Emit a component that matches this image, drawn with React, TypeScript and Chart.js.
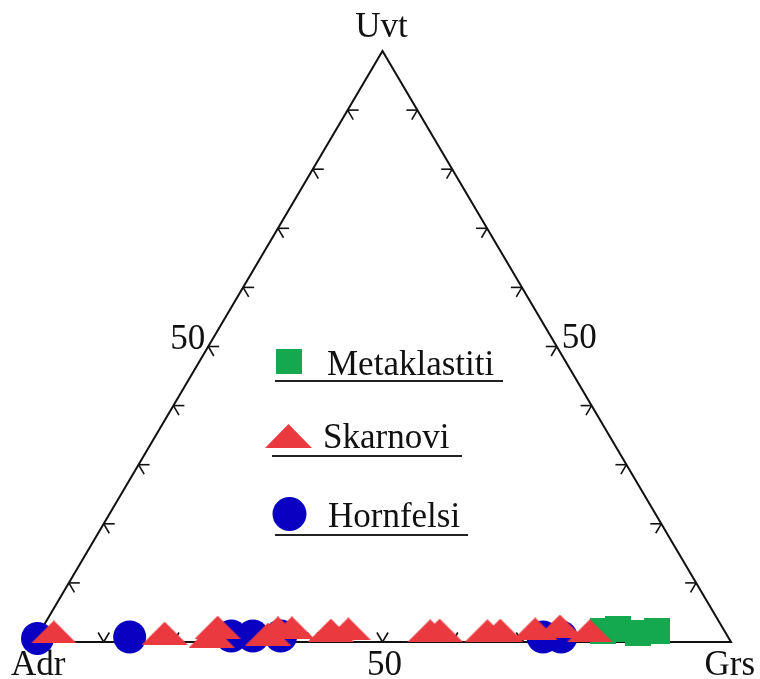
import React, { useEffect, useRef } from 'react';
import { Chart, registerables } from 'chart.js';

Chart.register(...registerables);

// Ternary diagram: Adr (left), Grs (right), Uvt (top). Values in %.
const VERTEX_LABELS = ['Adr', 'Grs', 'Uvt'];
const TICK_VALUES = [10, 20, 30, 40, 50, 60, 70, 80, 90];
const LABELLED_TICK = 50;
const SERIES_NAMES = ['Metaklastiti', 'Skarnovi', 'Hornfelsi'];

const metaklastitiGrs = [80.7, 82.7, 85.9, 88.5];
const metaklastitiUvt = [1.9, 2.2, 1.5, 1.9];

const skarnoviGrs = [2.0, 18.0, 25.0, 25.1, 32.9, 33.8, 35.8, 41.6, 44.0, 55.9, 57.2, 64.1, 65.9, 70.8, 74.1, 78.8];
const skarnoviUvt = [1.7, 1.5, 1.0, 2.5, 1.35, 2.4, 2.4, 2.0, 2.2, 1.9, 2.0, 1.9, 2.0, 2.2, 2.7, 1.9];

const hornfelsiGrs = [0.2, 13.3, 27.8, 30.9, 34.9, 72.6, 75.2];
const hornfelsiUvt = [0.6, 0.85, 1.0, 1.0, 1.0, 0.85, 0.85];

const GREEN = '#14a84f';
const RED = '#ea3a3f';
const BLUE = '#0a00c2';
const FONT = '35px "Liberation Serif", "Times New Roman", serif';

function toXY(grs: number[], uvt: number[]) {
  return grs.map((g, i) => ({ x: g + uvt[i] / 2, y: uvt[i] }));
}

function makeTriangle(w: number, h: number, color: string) {
  const c = document.createElement('canvas');
  c.width = w;
  c.height = h;
  const g = c.getContext('2d')!;
  g.fillStyle = color;
  g.beginPath();
  g.moveTo(0, h);
  g.lineTo(w / 2, 0);
  g.lineTo(w, h);
  g.closePath();
  g.fill();
  return c;
}

function makeSquare(w: number, h: number, color: string) {
  const c = document.createElement('canvas');
  c.width = w;
  c.height = h;
  const g = c.getContext('2d')!;
  g.fillStyle = color;
  g.fillRect(0, 0, w, h);
  return c;
}

export default function App() {
  const ref = useRef<HTMLCanvasElement | null>(null);

  useEffect(() => {
    if (!ref.current) return;
    const tri = makeTriangle(46, 23, RED);
    const sq = makeSquare(26, 26, GREEN);
    const legendSq = makeSquare(26, 25, GREEN);
    const legendTri = makeTriangle(47, 24, RED);

    const frame = {
      id: 'ternaryFrame',
      beforeDatasetsDraw(chart: any) {
        const { ctx } = chart;
        const xs = chart.scales.x;
        const ys = chart.scales.y;
        const P = (grs: number, uvt: number) => ({
          px: xs.getPixelForValue(grs + uvt / 2),
          py: ys.getPixelForValue(uvt),
        });
        const A = P(0, 0);
        const G = P(100, 0);
        const U = P(0, 100);
        const unit = (a: any, b: any) => {
          const dx = b.px - a.px;
          const dy = b.py - a.py;
          const l = Math.hypot(dx, dy);
          return [dx / l, dy / l];
        };
        ctx.save();
        ctx.strokeStyle = '#111';
        ctx.lineWidth = 2;
        ctx.beginPath();
        ctx.moveTo(A.px, A.py);
        ctx.lineTo(U.px, U.py);
        ctx.lineTo(G.px, G.py);
        ctx.closePath();
        ctx.stroke();

        const dUG = unit(U, G);
        const dUA = unit(U, A);
        const dGU = unit(G, U);
        const dAU = unit(A, U);
        const L = 11;
        ctx.lineWidth = 1.6;
        const seg = (p: any, d: number[]) => {
          ctx.beginPath();
          ctx.moveTo(p.px, p.py);
          ctx.lineTo(p.px + d[0] * L, p.py + d[1] * L);
          ctx.stroke();
        };
        for (const t of TICK_VALUES) {
          const l = P(0, t);
          seg(l, [1, 0]);
          seg(l, dUG);
          const r = P(100 - t, t);
          seg(r, [-1, 0]);
          seg(r, dUA);
          const b = P(t, 0);
          seg(b, dGU);
          seg(b, dAU);
        }

        ctx.fillStyle = '#111';
        ctx.font = FONT;
        ctx.textBaseline = 'alphabetic';
        // vertex labels
        ctx.textAlign = 'left';
        ctx.fillText(VERTEX_LABELS[0], A.px - 23, A.py + 33);
        ctx.textAlign = 'right';
        ctx.fillText(VERTEX_LABELS[1], G.px + 24, G.py + 33);
        ctx.textAlign = 'center';
        ctx.fillText(VERTEX_LABELS[2], U.px - 1, U.py - 14);
        // 50 labels
        const l50 = P(0, LABELLED_TICK);
        ctx.textAlign = 'right';
        ctx.fillText(String(LABELLED_TICK), l50.px - 3, l50.py + 2);
        const r50 = P(100 - LABELLED_TICK, LABELLED_TICK);
        ctx.textAlign = 'left';
        ctx.fillText(String(LABELLED_TICK), r50.px + 5, r50.py + 1);
        const b50 = P(LABELLED_TICK, 0);
        ctx.textAlign = 'center';
        ctx.fillText(String(LABELLED_TICK), b50.px + 2, b50.py + 33);
        ctx.restore();
      },
      afterDatasetsDraw(chart: any) {
        const { ctx } = chart;
        ctx.save();
        ctx.font = FONT;
        ctx.fillStyle = '#111';
        ctx.textAlign = 'left';
        ctx.textBaseline = 'alphabetic';
        // Metaklastiti
        ctx.drawImage(legendSq, 276, 349);
        ctx.fillText(SERIES_NAMES[0], 327, 375);
        // Skarnovi
        ctx.drawImage(legendTri, 265, 424);
        ctx.fillText(SERIES_NAMES[1], 323, 448);
        // Hornfelsi
        ctx.fillStyle = BLUE;
        ctx.beginPath();
        ctx.arc(289.5, 514, 17, 0, Math.PI * 2);
        ctx.fill();
        ctx.fillStyle = '#111';
        ctx.fillText(SERIES_NAMES[2], 328, 527);
        // underlines
        ctx.strokeStyle = '#222';
        ctx.lineWidth = 2;
        const line = (x1: number, x2: number, y: number) => {
          ctx.beginPath();
          ctx.moveTo(x1, y);
          ctx.lineTo(x2, y);
          ctx.stroke();
        };
        line(275, 503, 381);
        line(272, 462, 456);
        line(275, 468, 535);
        ctx.restore();
      },
    };

    const chart = new Chart(ref.current, {
      type: 'scatter',
      data: {
        datasets: [
          {
            label: SERIES_NAMES[1],
            data: toXY(skarnoviGrs, skarnoviUvt),
            pointStyle: tri as any,
            backgroundColor: RED,
            borderWidth: 0,
            order: 0,
            clip: false as any,
          },
          {
            label: SERIES_NAMES[0],
            data: toXY(metaklastitiGrs, metaklastitiUvt),
            pointStyle: sq as any,
            backgroundColor: GREEN,
            borderWidth: 0,
            order: 1,
            clip: false as any,
          },
          {
            label: SERIES_NAMES[2],
            data: toXY(hornfelsiGrs, hornfelsiUvt),
            pointStyle: 'circle',
            pointRadius: 16.5,
            backgroundColor: BLUE,
            borderWidth: 0,
            order: 2,
            clip: false as any,
          },
        ],
      },
      options: {
        responsive: false,
        animation: false,
        events: [],
        layout: { padding: { left: 34, right: 29, top: 51, bottom: 37 } },
        scales: {
          x: { type: 'linear', min: 0, max: 100, display: false },
          y: { type: 'linear', min: 0, max: 100, display: false },
        },
        plugins: {
          legend: { display: false },
          tooltip: { enabled: false },
        },
      },
      plugins: [frame],
    });
    return () => chart.destroy();
  }, []);

  return (
    <div style={{ position: 'fixed', left: 0, top: 0, width: 760, height: 679, background: '#fff' }}>
      <canvas ref={ref} width={760} height={679} style={{ display: 'block' }} />
    </div>
  );
}
